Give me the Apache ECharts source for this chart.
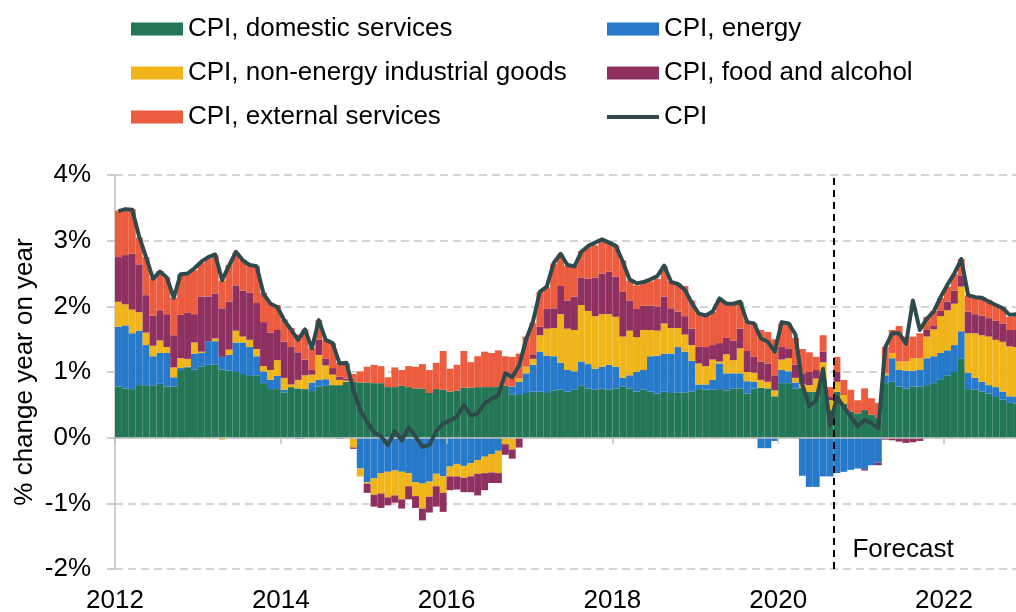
<!DOCTYPE html>
<html>
<head>
<meta charset="utf-8">
<script src="https://cdn.jsdelivr.net/npm/echarts@6/dist/echarts.min.js"></script>
<style>
html,body{margin:0;padding:0;background:#fff;}
#chart{width:1016px;height:612px;}
</style>
</head>
<body>
<div id="chart"></div>
<script>
// Monthly data, Jan 2012 .. Nov 2022 (131 months)
const startYear = 2012;
const nMonths = 131;
const months = [];
for (let i = 0; i < nMonths; i++) {
  months.push((startYear + Math.floor(i / 12)) + '-' + String(i % 12 + 1).padStart(2, '0'));
}

const domesticServices = [
  .78,.75,.74,.80,.80,.79,.82,.78,.78,1.03,
  1.07,1.04,1.08,1.11,1.11,1.04,1.02,1.00,.97,.94,
  .95,.83,.74,.74,.69,.77,.75,.74,.71,.78,
  .79,.80,.80,.85,.85,.84,.84,.83,.83,.77,
  .77,.79,.77,.75,.75,.68,.74,.73,.70,.72,
  .76,.76,.77,.77,.77,.78,.79,.66,.65,.68,
  .70,.70,.68,.72,.73,.70,.73,.79,.75,.73,
  .75,.73,.75,.78,.75,.70,.73,.70,.67,.70,
  .68,.69,.69,.70,.74,.73,.73,.74,.72,.75,
  .75,.67,.75,.76,.75,.63,.83,.83,.75,.76,
  .70,.70,.90,.42,.70,.52,.40,.37,.42,.35,
  .30,.83,.85,.78,.75,.78,.78,.80,.83,.89,
  .95,1.00,1.20,.74,.73,.70,.67,.62,.58,.53,.52
];
const energy = [
  .91,.96,.85,.83,.61,.45,.47,.51,.14,.03,
  .01,.24,.21,.36,.36,.19,.24,.45,.48,.44,
  .29,.18,.14,.20,.04,0,-.02,0,.13,.10,
  .10,0,-.02,0,0,-.47,-.68,-.62,-.54,-.52,
  -.50,-.52,-.54,-.68,-.70,-.67,-.55,-.59,-.44,-.40,
  -.43,-.39,-.34,-.29,-.25,-.20,0,.12,.20,.30,
  .41,.61,.57,.52,.41,.33,.28,.37,.37,.32,
  .33,.38,.33,.13,.20,.30,.30,.54,.58,.58,
  .60,.69,.62,.47,.07,.08,.15,.39,.26,.23,
  .23,.19,.10,-.16,-.16,-.05,.20,.18,.09,-.58,
  -.75,-.75,-.59,-.59,-.54,-.52,-.49,-.47,-.48,-.42,
  -.38,.12,.36,.25,.27,.24,.25,.41,.41,.40,
  .38,.41,.42,.25,.18,.15,.13,.15,.12,.10,.10
];
const nonEnergyGoods = [
  .38,.32,.36,.28,.19,.16,.19,.09,.15,.15,
  .12,.17,.02,-.01,.04,-.03,.08,.18,.09,.11,
  .11,.08,.15,.24,.18,.04,.13,.21,.12,.38,
  .21,.16,.08,.02,-.15,-.12,-.02,-.25,-.31,-.39,
  -.38,-.42,-.20,-.21,-.38,-.23,-.19,-.25,-.15,-.19,
  -.18,-.20,-.21,-.25,-.28,-.34,-.10,-.18,.05,.10,
  .09,.25,.41,.43,.74,.63,.63,.86,.81,.80,
  .80,.77,.76,.63,.68,.53,.61,.40,.38,.46,
  .39,.29,.26,.24,.32,.28,.31,.03,.29,.20,
  .38,.14,.14,.12,.10,.09,.16,.20,.07,.06,
  .10,.20,.25,.15,.15,.13,0,0,0,0,
  0,.03,.08,.13,.14,.19,.18,.33,.41,.56,
  .61,.63,.68,.60,.68,.71,.74,.72,.76,.76,.76
];
const foodAlcohol = [
  .68,.75,.85,.73,.57,.46,.46,.50,.49,.66,
  .70,.43,.84,.68,.68,.74,.73,.69,.70,.72,
  .70,.67,.57,.46,.55,.57,.42,.24,.07,.23,
  .10,.10,.05,.03,-.02,0,-.14,-.18,-.22,-.12,
  -.11,-.14,-.20,-.18,-.18,-.24,-.31,-.29,-.21,-.20,
  -.22,-.24,-.33,-.26,-.16,-.15,-.16,-.14,-.15,0,
  .07,.13,.30,.30,.43,.43,.51,.42,.49,.59,
  .62,.65,.61,.68,.46,.43,.37,.37,.37,.41,
  .30,.25,.28,.25,.26,.29,.22,.28,.25,.30,
  .30,.32,.24,.28,.28,.23,.19,.15,.20,.16,
  .20,.13,.16,.05,.15,0,0,0,-.02,0,
  -.04,-.03,-.04,-.06,-.08,-.07,-.05,.10,.05,.08,
  .13,.20,.17,.33,.29,.30,.28,.29,.28,.25,.26
];
const externalServices = [
  .71,.70,.68,.41,.58,.57,.60,.56,.57,.62,
  .62,.67,.51,.58,.59,.42,.56,.50,.47,.42,
  .56,.45,.45,.38,.34,.29,.27,.46,.34,.30,
  .30,.38,.21,.23,.12,.17,.24,.28,.26,.15,
  .30,.24,.32,.33,.37,.35,.40,.59,.35,.39,
  .56,.39,.47,.54,.52,.55,.45,.45,.38,.46,
  .48,.53,.33,.68,.48,.53,.48,.40,.48,.49,
  .51,.46,.48,.48,.30,.36,.35,.37,.42,.46,
  .41,.43,.46,.43,.51,.48,.51,.66,.52,.56,
  .41,.46,.51,.48,.48,.55,.36,.38,.41,.37,
  .30,.20,.25,.15,.23,.23,.33,.20,.33,.25,
  .23,.40,.35,.54,.38,.33,.38,.20,.23,.20,
  .23,.25,.25,.25,.26,.27,.28,.25,.25,.20,.22
];
const cpi = [
  3.45,3.48,3.47,3.06,2.75,2.42,2.53,2.44,2.13,2.49,
  2.50,2.58,2.68,2.75,2.79,2.40,2.62,2.83,2.70,2.63,
  2.61,2.19,2.04,1.99,1.79,1.64,1.49,1.65,1.36,1.79,
  1.49,1.44,1.13,1.14,0.73,0.42,0.24,0.08,0.02,-0.11,
  0.10,-0.04,0.15,0.02,-0.14,-0.11,0.10,0.21,0.26,0.32,
  0.50,0.34,0.37,0.52,0.59,0.65,0.98,0.92,1.10,1.49,
  1.77,2.22,2.30,2.66,2.80,2.63,2.61,2.83,2.92,2.97,
  3.02,2.97,2.92,2.68,2.41,2.35,2.37,2.41,2.46,2.62,
  2.37,2.34,2.25,2.05,1.89,1.86,1.92,2.12,2.04,2.04,
  2.07,1.76,1.74,1.51,1.46,1.31,1.76,1.74,1.57,0.80,
  0.48,0.57,1.05,0.19,0.62,0.47,0.32,0.17,0.27,0.22,
  0.14,1.38,1.59,1.59,1.43,2.09,1.64,1.81,1.92,2.14,
  2.33,2.50,2.72,2.17,2.14,2.13,2.07,2.02,1.97,1.87,1.88
];
const yTicks = { min: -2, max: 4, step: 1 };
const xLabelStep = 24;          // months between year labels
const forecastStart = 104;      // month index where the forecast begins (Sep 2020)

const FONT = 'Liberation Sans, Arial, sans-serif';
const C = {
  green: '#237756', blue: '#2779c9', yellow: '#f1b51c',
  purple: '#8e3161', orange: '#ec5d40', line: '#2e4a4d'
};

function barSeries(name, data, color) {
  return {
    name, type: 'bar', stack: 'cpi', data,
    xAxisIndex: 0, yAxisIndex: 0,
    barCategoryGap: '0%', barGap: '0%',
    itemStyle: { color },
    emphasis: { disabled: true }
  };
}

const legendBase = {
  orient: 'vertical', top: 16, padding: 0, itemWidth: 52, itemHeight: 13, itemGap: 18,
  icon: 'rect',
  textStyle: { fontSize: 26, color: '#000', fontFamily: FONT },
  selectedMode: false
};

const chart = echarts.init(document.getElementById('chart'), null, { renderer: 'canvas' });
chart.setOption({
  animation: false,
  textStyle: { fontFamily: FONT },
  grid: { left: 115, right: -4, top: 175, bottom: 43, containLabel: false, outerBoundsMode: 'none' },
  legend: [
    Object.assign({}, legendBase, {
      left: 131,
      data: ['CPI, domestic services', 'CPI, non-energy industrial goods', 'CPI, external services']
    }),
    Object.assign({}, legendBase, {
      left: 607,
      data: ['CPI, energy', 'CPI, food and alcohol',
        { name: 'CPI', icon: 'path://M0,0L52,0L52,4L0,4Z', itemStyle: { color: C.line } }]
    })
  ],
  xAxis: [
    {
      type: 'category', data: months, position: 'bottom', boundaryGap: true, z: 5,
      axisLine: { show: true, onZero: true, lineStyle: { color: '#c0c0c0', width: 1.5 } },
      axisTick: { show: true, interval: xLabelStep - 1, length: 6, lineStyle: { color: '#c0c0c0', width: 1.5 } },
      axisLabel: { show: false },
      splitLine: { show: false }
    },
    {
      type: 'value', min: 0, max: nMonths, interval: xLabelStep, position: 'bottom',
      axisLine: { show: false, onZero: false },
      axisTick: { show: false },
      splitLine: { show: false },
      axisLabel: {
        show: true, margin: 19, fontSize: 26, color: '#000', fontFamily: FONT,
        showMaxLabel: false,
        formatter: v => String(startYear + Math.round(v / 12))
      }
    }
  ],
  yAxis: {
    type: 'value', min: yTicks.min, max: yTicks.max, interval: yTicks.step,
    name: '% change year on year', nameLocation: 'middle', nameRotate: 90, nameGap: 77,
    nameMoveOverlap: false,
    nameTextStyle: { fontSize: 26, color: '#000', fontFamily: FONT },
    axisLine: { show: true, lineStyle: { color: '#c0c0c0', width: 1.5 } },
    axisTick: { show: true, length: 8, lineStyle: { color: '#c0c0c0', width: 1.5 } },
    axisLabel: { fontSize: 26, color: '#000', margin: 24, fontFamily: FONT, formatter: '{value}%' },
    splitLine: { show: true, lineStyle: { color: '#c6c6c6', width: 1.5, type: [8, 5] } }
  },
  series: [
    barSeries('CPI, domestic services', domesticServices, C.green),
    barSeries('CPI, energy', energy, C.blue),
    barSeries('CPI, non-energy industrial goods', nonEnergyGoods, C.yellow),
    barSeries('CPI, food and alcohol', foodAlcohol, C.purple),
    barSeries('CPI, external services', externalServices, C.orange),
    {
      name: 'CPI', type: 'line', data: cpi, xAxisIndex: 0, yAxisIndex: 0, z: 20,
      symbol: 'none', showSymbol: false, smooth: false,
      lineStyle: { color: C.line, width: 4, join: 'round' },
      itemStyle: { color: C.line },
      emphasis: { disabled: true }
    },
    {
      name: 'forecast', type: 'line', data: [], xAxisIndex: 1, yAxisIndex: 0, z: 25,
      silent: true,
      markLine: {
        silent: true, symbol: 'none', animation: false,
        label: { show: false },
        lineStyle: { color: '#000', width: 2, type: [7, 5] },
        data: [{ xAxis: forecastStart }]
      },
      markPoint: {
        silent: true, symbol: 'circle', symbolSize: 0, animation: false,
        label: {
          show: true, position: 'right', distance: 19, formatter: 'Forecast',
          fontSize: 26, color: '#000', fontFamily: FONT
        },
        data: [{ coord: [forecastStart, -1.71] }]
      }
    }
  ]
});
</script>
</body>
</html>
